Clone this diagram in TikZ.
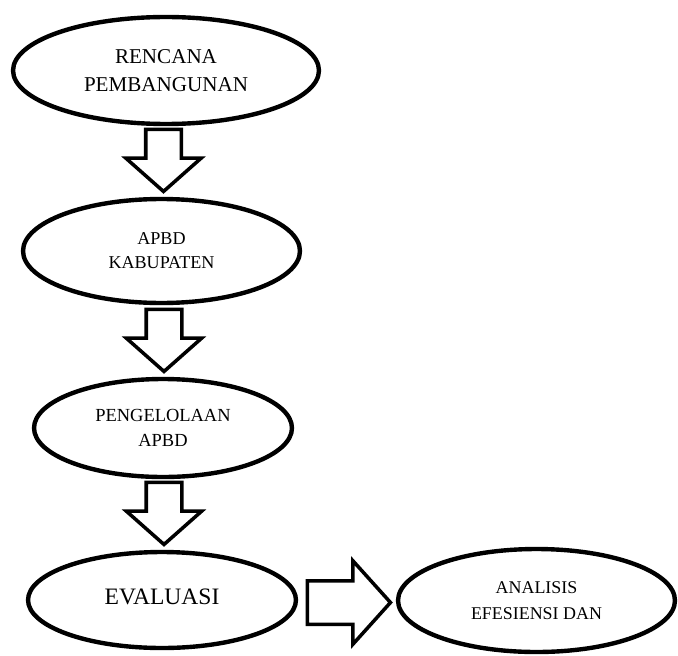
\documentclass[tikz,border=0pt]{standalone}
\usepackage{fontspec}
\setmainfont{Liberation Serif}
\usetikzlibrary{shapes.geometric,shapes.arrows,calc}

\begin{document}
\begin{tikzpicture}[
  x=0.02cm,
  y=-0.02cm,
  stage/.style={
    draw,
    ellipse,
    line width=2.5pt,
    inner sep=0pt,
    align=center
  },
  downarrow/.style={
    draw,
    single arrow,
    line width=2pt,
    inner xsep=0pt,
    inner ysep=0.32cm,
    minimum height=1.24cm,
    single arrow head extend=0.4cm,
    single arrow tip angle=97,
    rotate=-90,
    anchor=tip
  },
  rightarrow/.style={
    draw,
    single arrow,
    line width=2pt,
    inner xsep=0pt,
    inner ysep=0.4cm,
    minimum height=1.66cm,
    single arrow head extend=0.4cm,
    single arrow tip angle=96,
    anchor=tip
  }
]
\useasboundingbox (0,0) rectangle (678,655);

% Stages of the flow.
\node[stage, minimum width=6.12cm, minimum height=2.14cm,
  font=\fontsize{12}{15.9}\selectfont] (rencana) at (166,70.5)
  {RENCANA\\PEMBANGUNAN};
\node[stage, minimum width=5.54cm, minimum height=2.08cm,
  font=\fontsize{10.3}{13.6}\selectfont] (apbd) at (161.5,251)
  {APBD\\KABUPATEN};
\node[stage, minimum width=5.16cm, minimum height=1.96cm,
  font=\fontsize{10.5}{14.2}\selectfont] (kelola) at (163,428)
  {PENGELOLAAN\\APBD};
\node[stage, minimum width=5.36cm, minimum height=1.92cm,
  font=\fontsize{13.4}{16}\selectfont] (evaluasi) at (162,600)
  {\raisebox{0.14cm}{EVALUASI}};
\node[stage, minimum width=5.54cm, minimum height=2.06cm,
  font=\fontsize{10.2}{14.7}\selectfont] (analisis) at (536.5,600.5)
  {ANALISIS\\EFESIENSI DAN};

% Block arrows between the stages.
\node[downarrow] (panah1) at ($(apbd.north)+(2,-3)$) {};
\node[downarrow] (panah2) at ($(kelola.north)+(1,-3)$) {};
\node[downarrow] (panah3) at ($(evaluasi.north)+(2,-3)$) {};
\node[rightarrow] (panah4) at ($(analisis.west)+(-3,2)$) {};

\end{tikzpicture}
\end{document}
